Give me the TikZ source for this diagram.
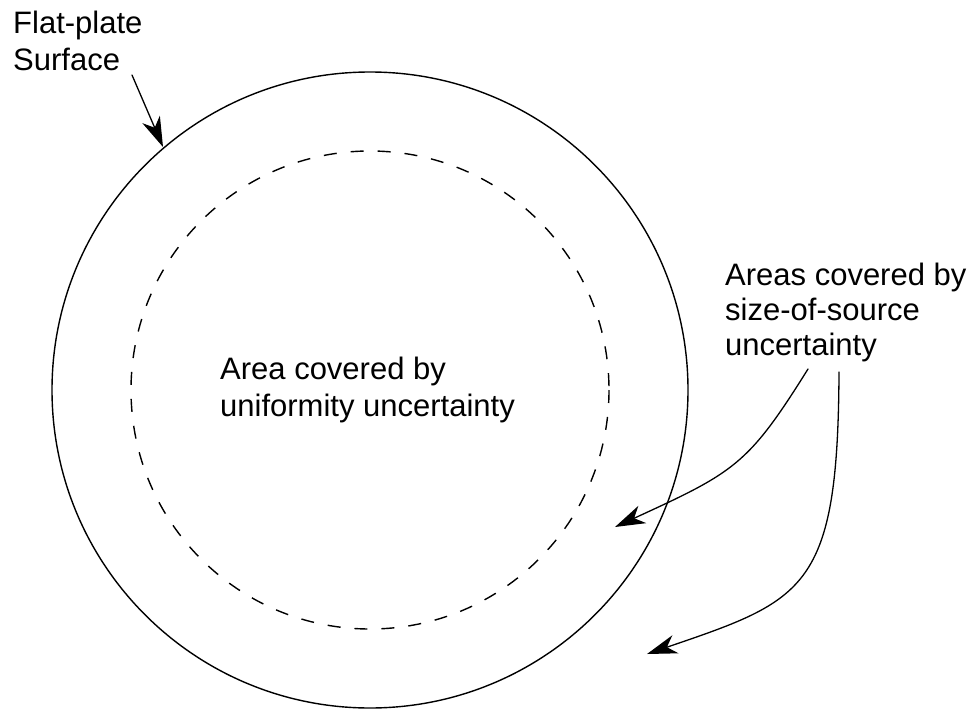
\documentclass[tikz,border=0pt]{standalone}
\usepackage{fontspec}
\setmainfont{Liberation Sans}
\usetikzlibrary{arrows.meta}
\begin{document}
\begin{tikzpicture}[
			x=1pt, y=-1pt,
			line join=round,
			line cap=round,
			vien/.style={line width=1.4pt},
			vungtrong/.style={line width=1.4pt, dash pattern=on 13pt off 14pt, line cap=butt},
			chu/.style={font=\fontsize{31}{37}\selectfont, align=left, inner sep=0pt, anchor=north west},
			muiten/.style={line width=1.3pt, -{Stealth[length=30pt, width=19pt, inset=9pt]}}
			]
			\useasboundingbox (0,0) rectangle (977,709);
			\coordinate (tam) at (370,390);
			% hai duong tron
			\draw[vien] (tam) circle (318);
			\draw[vungtrong] (tam) circle (239);
			% chu
			\node[chu] (flat) at (13,11) {Flat-plate\\Surface};
			\node[chu] (deu) at (220,357) {Area covered by\\uniformity uncertainty};
			\node[chu, font=\fontsize{31}{35}\selectfont] (nguon) at (725,263) {Areas covered by\\size-of-source\\uncertainty};
			% mui ten
			\coordinate (flatgoc) at (132,75);
			\coordinate (flatdau) at (163,147);
			\coordinate (goc1) at (808,369);
			\coordinate (dau1) at (615,527);
			\coordinate (goc2) at (839,372);
			\coordinate (dau2) at (647,654);
			\draw[muiten] (flatgoc) -- (flatdau);
			\draw[muiten] (goc1) .. controls (748,465) and (735,472) .. (dau1);
			\draw[muiten] (goc2) .. controls (838,590) and (805,600) .. (dau2);
		\end{tikzpicture}
\end{document}
